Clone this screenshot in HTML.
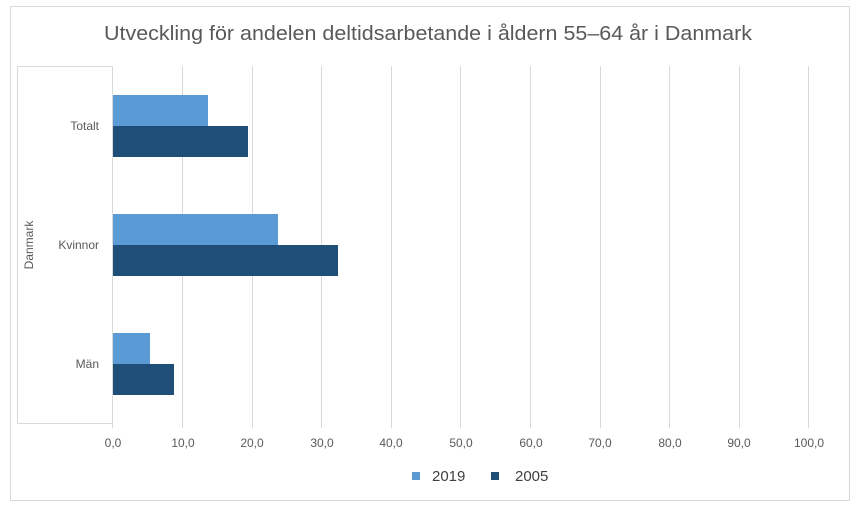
<!DOCTYPE html>
<html><head><style>
body{margin:0;background:#fff;}
svg{display:block;font-family:"Liberation Sans",sans-serif;}
</style></head><body>
<svg width="859" height="510" xmlns="http://www.w3.org/2000/svg">
<rect x="10.5" y="6.5" width="839" height="494" fill="#fff" stroke="#d9d9d9"/>
<text x="428" y="40" font-size="20" fill="#595959" text-anchor="middle" textLength="648" lengthAdjust="spacingAndGlyphs">Utveckling för andelen deltidsarbetande i åldern 55–64 år i Danmark</text>
<g stroke="#d9d9d9" stroke-width="1">
<line x1="17.5" y1="66" x2="17.5" y2="423"/>
<line x1="17" y1="66.5" x2="113" y2="66.5"/>
<line x1="17" y1="423.5" x2="113" y2="423.5"/>
<line x1="112.5" y1="66" x2="112.5" y2="428"/>
<line x1="182.5" y1="66" x2="182.5" y2="428"/>
<line x1="252.5" y1="66" x2="252.5" y2="428"/>
<line x1="321.5" y1="66" x2="321.5" y2="428"/>
<line x1="391.5" y1="66" x2="391.5" y2="428"/>
<line x1="460.5" y1="66" x2="460.5" y2="428"/>
<line x1="530.5" y1="66" x2="530.5" y2="428"/>
<line x1="600.5" y1="66" x2="600.5" y2="428"/>
<line x1="669.5" y1="66" x2="669.5" y2="428"/>
<line x1="739.5" y1="66" x2="739.5" y2="428"/>
<line x1="808.5" y1="66" x2="808.5" y2="428"/>
</g>
<g fill="#5b9bd5">
<rect x="113" y="95" width="95" height="31"/>
<rect x="113" y="214" width="165" height="31"/>
<rect x="113" y="333" width="37" height="31"/>
</g>
<g fill="#1f4e79">
<rect x="113" y="126" width="135" height="31"/>
<rect x="113" y="245" width="225" height="31"/>
<rect x="113" y="364" width="61" height="31"/>
</g>
<g font-size="12" fill="#595959" text-anchor="end">
<text x="99" y="130">Totalt</text>
<text x="99" y="249">Kvinnor</text>
<text x="99" y="368">Män</text>
</g>
<text transform="translate(33,245) rotate(-90)" font-size="12" fill="#595959" text-anchor="middle">Danmark</text>
<g font-size="12" fill="#595959" text-anchor="middle">
<text x="113" y="447">0,0</text><text x="183" y="447">10,0</text><text x="252" y="447">20,0</text>
<text x="322" y="447">30,0</text><text x="391" y="447">40,0</text><text x="461" y="447">50,0</text>
<text x="531" y="447">60,0</text><text x="600" y="447">70,0</text><text x="670" y="447">80,0</text>
<text x="739" y="447">90,0</text><text x="809" y="447">100,0</text>
</g>
<rect x="412" y="472" width="8" height="8" fill="#5b9bd5"/>
<text x="432" y="481" font-size="15" fill="#404040">2019</text>
<rect x="491" y="472" width="8" height="8" fill="#1f4e79"/>
<text x="515" y="481" font-size="15" fill="#404040">2005</text>
</svg>
</body></html>
